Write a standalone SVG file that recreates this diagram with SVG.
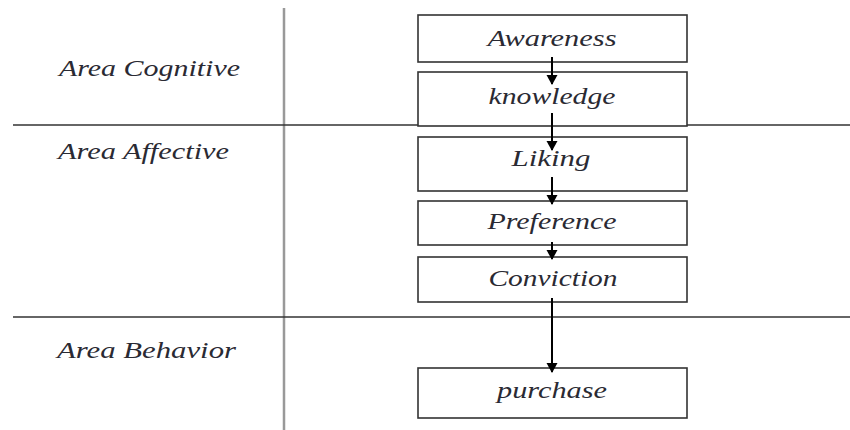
<svg xmlns="http://www.w3.org/2000/svg" width="850" height="430" viewBox="0 0 850 430">
<defs>
<style>
.t{font-family:"Liberation Serif","DejaVu Serif",serif;font-style:italic;font-size:23px;fill:#2a2a33}
.box{fill:#fff;stroke:#333;stroke-width:1.6}
.sep{stroke:#333;stroke-width:1.6}
.con{stroke:#000;stroke-width:2;fill:none;marker-end:url(#ah)}
</style>
<marker id="ah" markerWidth="12" markerHeight="12" refX="9" refY="6" orient="auto" markerUnits="userSpaceOnUse" viewBox="0 0 12 12">
<path d="M0,0.5 L10,6 L0,11.5 Z" fill="#000"/>
</marker>
</defs>
<rect width="850" height="430" fill="#fff"/>
<g id="grid">
<line x1="284" y1="8" x2="284" y2="430" stroke="#999" stroke-width="2.5"/>
<line class="sep" x1="13" y1="125" x2="850" y2="125"/>
<line class="sep" x1="13" y1="317" x2="850" y2="317"/>
</g>
<g id="area-cognitive"><text class="t" x="59" y="76" textLength="181" lengthAdjust="spacingAndGlyphs">Area Cognitive</text></g>
<g id="area-affective"><text class="t" x="58" y="159" textLength="171" lengthAdjust="spacingAndGlyphs">Area Affective</text></g>
<g id="area-behavior"><text class="t" x="57" y="358" textLength="179" lengthAdjust="spacingAndGlyphs">Area Behavior</text></g>
<g id="awareness"><rect class="box" x="418" y="15" width="269" height="47"/><text class="t" x="552" y="46" text-anchor="middle" textLength="129" lengthAdjust="spacingAndGlyphs">Awareness</text></g>
<g id="knowledge"><rect class="box" x="418" y="72" width="269" height="54"/><text class="t" x="552" y="104" text-anchor="middle" textLength="127" lengthAdjust="spacingAndGlyphs">knowledge</text></g>
<g id="liking"><rect class="box" x="418" y="137" width="269" height="54"/><text class="t" x="551" y="166" text-anchor="middle" textLength="79" lengthAdjust="spacingAndGlyphs">Liking</text></g>
<g id="preference"><rect class="box" x="418" y="201" width="269" height="44"/><text class="t" x="552" y="229" text-anchor="middle" textLength="129" lengthAdjust="spacingAndGlyphs">Preference</text></g>
<g id="conviction"><rect class="box" x="418" y="257" width="269" height="45"/><text class="t" x="553" y="286" text-anchor="middle" textLength="129" lengthAdjust="spacingAndGlyphs">Conviction</text></g>
<g id="purchase"><rect class="box" x="418" y="368" width="269" height="50"/><text class="t" x="552" y="398" text-anchor="middle" textLength="110" lengthAdjust="spacingAndGlyphs">purchase</text></g>
<g id="connectors">
<line class="con" x1="552" y1="57" x2="552" y2="84"/>
<line class="con" x1="552" y1="113" x2="552" y2="150"/>
<line class="con" x1="552" y1="177" x2="552" y2="204"/>
<line class="con" x1="552" y1="242" x2="552" y2="259"/>
<line class="con" x1="552" y1="298" x2="552" y2="372"/>
</g>
</svg>
